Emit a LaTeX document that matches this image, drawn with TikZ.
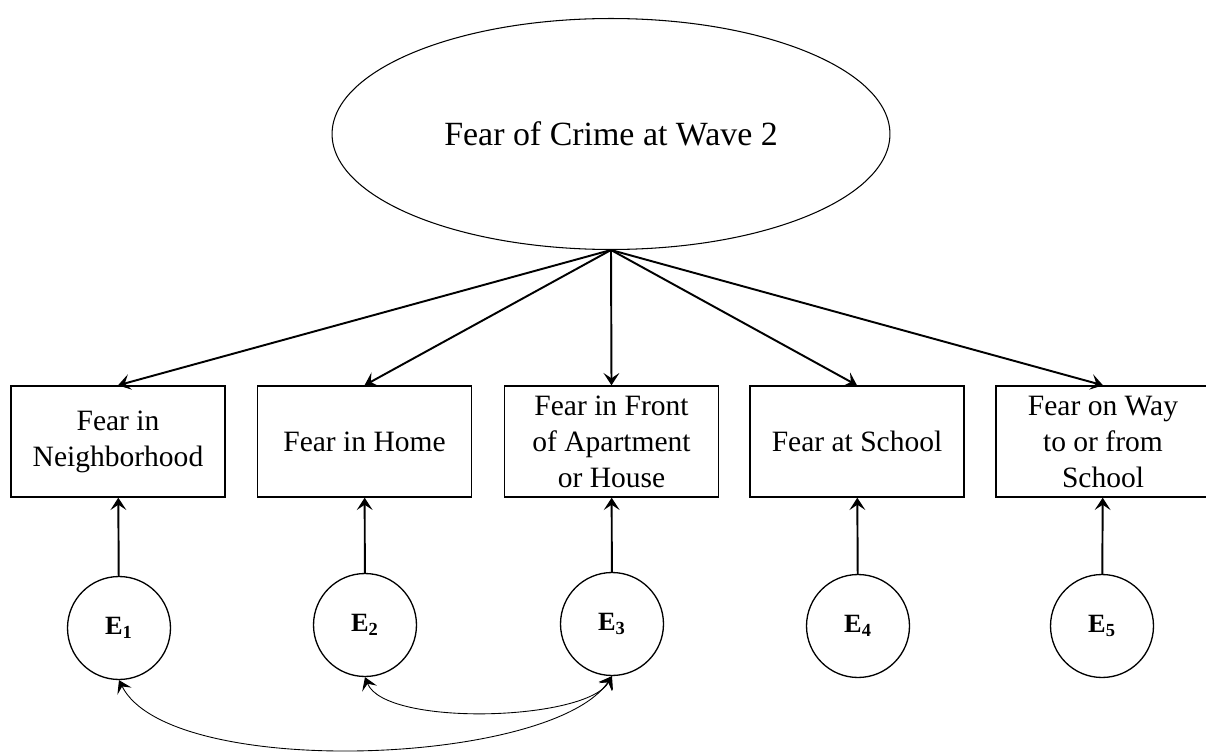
\documentclass[tikz,border=0pt]{standalone}
\usepackage{fontspec}
\setmainfont{Liberation Serif}
\usetikzlibrary{arrows.meta,shapes.geometric}

\begin{document}
\begin{tikzpicture}[x=0.02cm, y=-0.02cm,
    >={Stealth[length=7pt, width=9pt, inset=3pt]},
    latent/.style={draw, line width=0.6pt, ellipse, minimum width=11.16cm, minimum height=4.62cm, inner sep=0pt, font=\fontsize{19.3}{23}\selectfont},
    indicator/.style={draw, line width=0.8pt, minimum width=4.28cm, minimum height=2.22cm, align=center, inner sep=0pt, font=\fontsize{16.8}{20.5}\selectfont},
    errvar/.style={draw, line width=0.75pt, circle, minimum size=2.06cm, inner sep=0pt, font=\fontsize{15}{18}\selectfont\bfseries},
    loading/.style={->, line width=1.1pt},
    covar/.style={<->, line width=0.5pt}]

    %% Measurement model

    \useasboundingbox (0,0) rectangle (1206,753);

    % Latent factor
    \node[latent] (fear) at (611,134) {Fear of Crime at Wave 2};

    % Indicators
    \node[indicator] (b1) at (118,441.5) {Fear in\\Neighborhood};
    \node[indicator] (b2) at (364.5,441.5) {Fear in Home};
    \node[indicator] (b3) at (611.5,441.5) {Fear in Front\\of Apartment\\or House};
    \node[indicator] (b4) at (857,441.5) {Fear at School};
    \node[indicator] (b5) at (1103,441.5) {Fear on Way\\to or from\\School};

    % Error terms
    \node[errvar] (e1) at (119,628) {E\textsubscript{1}};
    \node[errvar] (e2) at (365,625) {E\textsubscript{2}};
    \node[errvar] (e3) at (612,624) {E\textsubscript{3}};
    \node[errvar] (e4) at (858,626) {E\textsubscript{4}};
    \node[errvar] (e5) at (1102,626) {E\textsubscript{5}};

    % Loadings
    \draw[loading] (fear.south) -- (b1.north);
    \draw[loading] (fear.south) -- (b2.north);
    \draw[loading] (fear.south) -- (b3.north);
    \draw[loading] (fear.south) -- (b4.north);
    \draw[loading] (fear.south) -- (b5.north);

    % Residuals
    \draw[loading] (e1) -- (b1);
    \draw[loading] (e2) -- (b2);
    \draw[loading] (e3) -- (b3);
    \draw[loading] (e4) -- (b4);
    \draw[loading] (e5) -- (b5);

    % Correlated errors
    \draw[covar] (e2.south) .. controls +(20,50) and +(-25,45) .. (e3.south);
    \draw[covar] (e1.south) .. controls +(50,100) and +(-60,90) .. (e3.south);

\end{tikzpicture}
\end{document}
